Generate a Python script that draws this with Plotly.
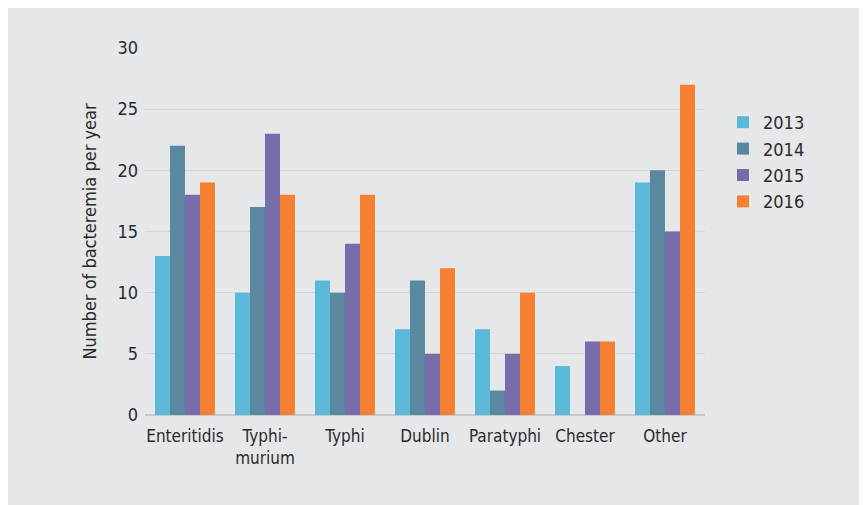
import plotly.graph_objects as go

categories = ["Enteritidis", "Typhi-<br>murium", "Typhi", "Dublin", "Paratyphi", "Chester", "Other"]
years = ["2013", "2014", "2015", "2016"]
v2013 = [13, 10, 11, 7, 7, 4, 19]
v2014 = [22, 17, 10, 11, 2, 0, 20]
v2015 = [18, 23, 14, 5, 5, 6, 15]
v2016 = [19, 18, 18, 12, 10, 6, 27]
series = [v2013, v2014, v2015, v2016]
colors = ["#5bb8d8", "#5a88a0", "#776daa", "#f58032"]
yticks = [0, 5, 10, 15, 20, 25, 30]

FONT = "Liberation Sans Narrow, DejaVu Sans Condensed, Arial Narrow, sans-serif"
BG = "#e6e7e9"

fig = go.Figure()
for name, vals, col in zip(years, series, colors):
    fig.add_trace(go.Bar(x=categories, y=vals, name=name, marker=dict(color=col, line=dict(width=0))))

W, H = 859, 497
L, R, T, B = 137, 162, 40, 90
pw, ph = W - L - R, H - T - B

def px2x(p):
    return (p - L) / pw

def px2y(p):
    return (H - B - p) / ph

fig.update_layout(
    width=W, height=H,
    margin=dict(l=L, r=R, t=T, b=B),
    paper_bgcolor=BG, plot_bgcolor=BG,
    barmode="group", bargap=0.25, bargroupgap=0,
    font=dict(family=FONT, size=17, color="#2b2b2b"),
    xaxis=dict(showgrid=False, ticks="", showline=False, tickfont=dict(size=17), ticklabelstandoff=9),
    yaxis=dict(range=[0, 30], tickvals=yticks, showgrid=True, gridcolor="#d2d4d6", gridwidth=1,
               zeroline=True, zerolinecolor="#c6c8ca", zerolinewidth=2,
               ticks="", ticklabelstandoff=6, tickfont=dict(size=18),
               title=dict(text="Number of bacteremia per year", font=dict(size=18), standoff=16)),
    legend=dict(x=px2x(715), y=px2y(96), xanchor="left", yanchor="top",
                bgcolor="rgba(0,0,0,0)", font=dict(size=18), tracegroupgap=0, itemwidth=30),
    showlegend=True,
)

fig.write_html("out.html")
